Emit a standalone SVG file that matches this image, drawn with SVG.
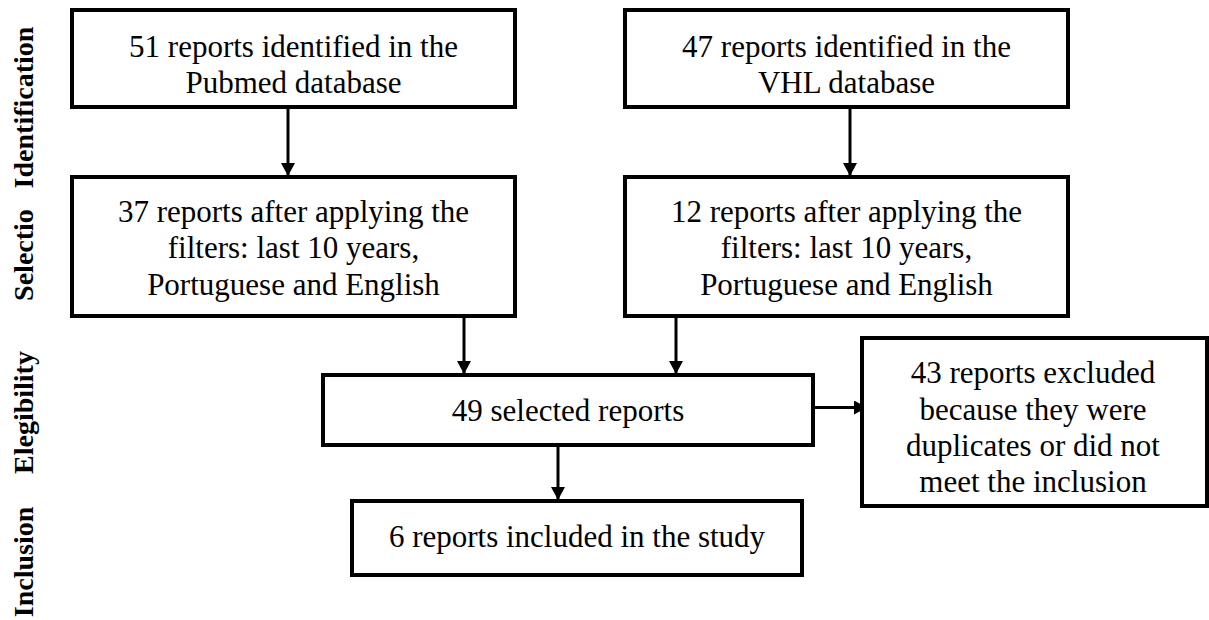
<svg xmlns="http://www.w3.org/2000/svg" width="1209" height="620" viewBox="0 0 1209 620">
<style>
  .box { fill: #ffffff; stroke: #000000; stroke-width: 4; }
  .t { font-size: 31px; fill: #000000; text-anchor: middle; }
  .lab { font-size: 28px; font-weight: bold; fill: #000000; text-anchor: middle; }
  .conn { stroke: #000000; stroke-width: 3; fill: none; marker-end: url(#arrow); }
</style>
<defs>
  <marker id="arrow" markerUnits="userSpaceOnUse" markerWidth="14" markerHeight="14" refX="13" refY="7" orient="auto">
    <path d="M0,0 L13,7 L0,14 Z" fill="#000000"/>
  </marker>
</defs>
<rect width="1209" height="620" fill="#ffffff"/>

<g id="stage-labels" font-family="Liberation Serif, Times New Roman, serif">
  <text class="lab" transform="translate(33,107.5) rotate(-90)">Identification</text>
  <text class="lab" transform="translate(33,255) rotate(-90)">Selectio</text>
  <text class="lab" transform="translate(33,412.5) rotate(-90)">Elegibility</text>
  <text class="lab" transform="translate(33,562) rotate(-90)">Inclusion</text>
</g>

<g id="connectors">
  <line class="conn" x1="288" y1="107" x2="288" y2="176"/>
  <line class="conn" x1="850" y1="107" x2="850" y2="176"/>
  <line class="conn" x1="464" y1="316" x2="464" y2="374"/>
  <line class="conn" x1="676" y1="316" x2="676" y2="374"/>
  <line class="conn" x1="558" y1="443" x2="558" y2="500"/>
  <line class="conn" x1="813" y1="407.5" x2="867" y2="407.5"/>
</g>

<g id="nodes" font-family="Liberation Serif, Times New Roman, serif">
<g id="node-pubmed">
  <rect class="box" x="72" y="10" width="443" height="97"/>
  <text class="t" x="293.5" y="56.5">51 reports identified in the</text>
  <text class="t" x="293.5" y="92.5">Pubmed database</text>
</g>

<g id="node-vhl">
  <rect class="box" x="625" y="10" width="443" height="97"/>
  <text class="t" x="846.5" y="56.5">47 reports identified in the</text>
  <text class="t" x="846.5" y="92.5">VHL database</text>
</g>

<g id="node-pubmed-filtered">
  <rect class="box" x="72" y="177" width="443" height="139"/>
  <text class="t" x="293.5" y="221.5">37 reports after applying the</text>
  <text class="t" x="293.5" y="258">filters: last 10 years,</text>
  <text class="t" x="293.5" y="294.5">Portuguese and English</text>
</g>

<g id="node-vhl-filtered">
  <rect class="box" x="625" y="177" width="443" height="139"/>
  <text class="t" x="846.5" y="221.5">12 reports after applying the</text>
  <text class="t" x="846.5" y="258">filters: last 10 years,</text>
  <text class="t" x="846.5" y="294.5">Portuguese and English</text>
</g>

<g id="node-selected">
  <rect class="box" x="323" y="375" width="490" height="70"/>
  <text class="t" x="568" y="421">49 selected reports</text>
</g>

<g id="node-excluded">
  <rect class="box" x="862" y="338" width="345" height="168"/>
  <text class="t" x="1033" y="383">43 reports excluded</text>
  <text class="t" x="1033" y="419.5">because they were</text>
  <text class="t" x="1033" y="456">duplicates or did not</text>
  <text class="t" x="1033" y="492">meet the inclusion</text>
</g>

<g id="node-included">
  <rect class="box" x="352" y="501" width="450" height="74"/>
  <text class="t" x="577" y="546.5">6 reports included in the study</text>
</g>
</g>
</svg>
